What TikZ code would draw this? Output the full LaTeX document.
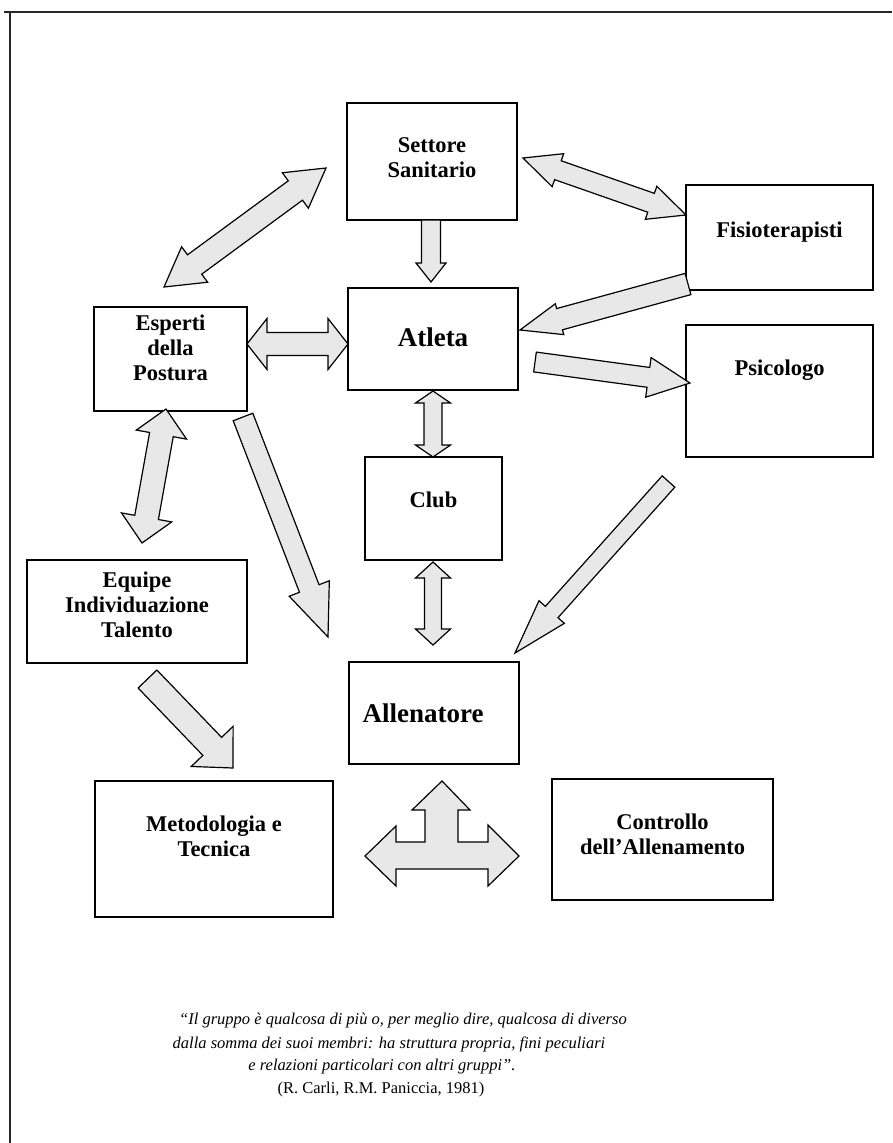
\documentclass[tikz,border=0pt]{standalone}
\usepackage{fontspec}
\setmainfont{Liberation Serif}
\usetikzlibrary{calc}
\tikzset{
  box/.style={draw=black, line width=1.4pt, inner sep=0pt},
  lbl/.style={font=\bfseries\fontsize{22.5}{25}\selectfont, align=center, inner sep=0pt},
  biglbl/.style={font=\bfseries\fontsize{27}{30}\selectfont, inner sep=0pt},
  blockarrow/.style={draw=black, line width=1.2pt, fill=black!9, line join=miter},
  quotetext/.style={font=\itshape\fontsize{16.5}{23}\selectfont, align=center, inner sep=0pt},
  citetext/.style={font=\fontsize{16.5}{23}\selectfont, inner sep=0pt},
  frameline/.style={draw=black!85, line width=2.2pt},
}
% single block arrow: tail, tip, head length, head half width, shaft half width
\newcommand{\sarrow}[5]{%
  \coordinate (hb) at ($(#2)!#3pt!(#1)$);
  \path[blockarrow]
    ($(#1)!#5pt!90:(#2)$) -- ($(hb)!#5pt!90:(#2)$) -- ($(hb)!#4pt!90:(#2)$) -- (#2)
    -- ($(hb)!#4pt!-90:(#2)$) -- ($(hb)!#5pt!-90:(#2)$) -- ($(#1)!#5pt!-90:(#2)$) -- cycle;
}
% double block arrow: end A, end B, head length, head half width, shaft half width
\newcommand{\darrow}[5]{%
  \coordinate (ha) at ($(#1)!#3pt!(#2)$);
  \coordinate (hz) at ($(#2)!#3pt!(#1)$);
  \path[blockarrow]
    (#1) -- ($(ha)!#4pt!90:(#2)$) -- ($(ha)!#5pt!90:(#2)$) -- ($(hz)!#5pt!90:(#2)$)
    -- ($(hz)!#4pt!90:(#2)$) -- (#2) -- ($(hz)!#4pt!-90:(#2)$) -- ($(hz)!#5pt!-90:(#2)$)
    -- ($(ha)!#5pt!-90:(#2)$) -- ($(ha)!#4pt!-90:(#2)$) -- cycle;
}
\begin{document}
\begin{tikzpicture}[x=1pt, y=-1pt]
\useasboundingbox (0,0) rectangle (892,1143);
\fill[white] (0,0) rectangle (892,1143);
% frame (top and left edges)
\draw[frameline] (4,12) -- (892,12);
\draw[frameline] (10,12) -- (10,1143);

% boxes
\node[box, minimum width=170pt, minimum height=117pt] (settore) at (432,161.5) {};
\node[box, minimum width=170pt, minimum height=102pt] (atleta) at (433,339) {};
\node[box, minimum width=153pt, minimum height=104pt] (esperti) at (170.5,359) {};
\node[box, minimum width=187pt, minimum height=105pt] (fisio) at (779.5,237.5) {};
\node[box, minimum width=187pt, minimum height=132pt] (psico) at (779.5,391) {};
\node[box, minimum width=137pt, minimum height=103pt] (club) at (433.5,508.5) {};
\node[box, minimum width=170pt, minimum height=102pt] (allen) at (434,713) {};
\node[box, minimum width=220pt, minimum height=103pt] (equipe) at (137,611.5) {};
\node[box, minimum width=238pt, minimum height=136pt] (metod) at (214,849) {};
\node[box, minimum width=221pt, minimum height=121pt] (contr) at (662.5,839.5) {};

% labels
\node[lbl] (settore-t) at (432,158) {Settore\\Sanitario};
\node[biglbl] (atleta-t) at (433,337) {Atleta};
\node[lbl] (esperti-t) at (170.5,348) {Esperti\\della\\Postura};
\node[lbl] (fisio-t) at (779.5,232) {Fisioterapisti};
\node[lbl] (psico-t) at (779.5,370) {Psicologo};
\node[lbl] (club-t) at (433.5,500) {Club};
\node[biglbl] (allen-t) at (423,713) {Allenatore};
\node[lbl] (equipe-t) at (137,605) {Equipe\\Individuazione\\Talento};
\node[lbl] (metod-t) at (214,836) {Metodologia e\\Tecnica};
\node[lbl] (contr-t) at (662.5,834) {Controllo\\dell'Allenamento};

% arrow end points
\coordinate (e1) at (164,287);   \coordinate (s1) at (326,168);
\coordinate (s2) at (431,220);   \coordinate (a2) at (431,282);
\coordinate (e3) at (247,344);   \coordinate (a3) at (348,344);
\coordinate (f4) at (688,284);   \coordinate (a4) at (520,330);
\coordinate (a5) at (535,362);   \coordinate (p5) at (690,383);
\coordinate (s6) at (523,158);   \coordinate (f6) at (686,215);
\coordinate (e7) at (166,409);   \coordinate (q7) at (142,543);
\coordinate (e8) at (243,417);   \coordinate (l8) at (328,637);
\coordinate (a9) at (433,391);   \coordinate (c9) at (433,457);
\coordinate (c10) at (433,562);  \coordinate (l10) at (433,645);
\coordinate (p11) at (668.5,481.5); \coordinate (l11) at (515,653);
\coordinate (q12) at (147.5,679); \coordinate (m12) at (233,768);

\darrow{e1}{s1}{38}{22}{12}
\sarrow{s2}{a2}{19}{15}{9.5}
\darrow{e3}{a3}{20}{25.5}{11.5}
\sarrow{f4}{a4}{41}{16}{11}
\sarrow{a5}{p5}{42}{20}{10}
\darrow{s6}{f6}{37}{17.5}{10}
\darrow{e7}{q7}{26}{25.5}{12}
\sarrow{e8}{l8}{52}{21.5}{10.5}
\darrow{a9}{c9}{12}{17.5}{9}
\darrow{c10}{l10}{16}{17.5}{8.5}
\sarrow{p11}{l11}{55}{17}{8.5}
\sarrow{q12}{m12}{30}{29}{13}

% three-way arrow below Allenatore
\coordinate (t-top) at (442,781);
\coordinate (t-left) at (365,856);
\coordinate (t-right) at (519,856);
\path[blockarrow] (t-top) -- (470,810) -- (458,810) -- (458,842) -- (488,842) -- (488,825)
  -- (t-right) -- (488,886) -- (488,869) -- (396,869) -- (396,886) -- (t-left)
  -- (396,826) -- (396,842) -- (425,842) -- (425,810) -- (412,810) -- cycle;

% quotation
\node[quotetext] (q1) at (403,1021) {“Il gruppo è qualcosa di più o, per meglio dire, qualcosa di diverso};
\node[quotetext] (q2) at (389,1044) {dalla somma dei suoi membri: ha struttura propria, fini peculiari};
\node[quotetext] (q3) at (382,1067) {e relazioni particolari con altri gruppi”.};
\node[citetext] (q4) at (381,1090) {(R. Carli, R.M. Paniccia, 1981)};
\end{tikzpicture}
\end{document}
